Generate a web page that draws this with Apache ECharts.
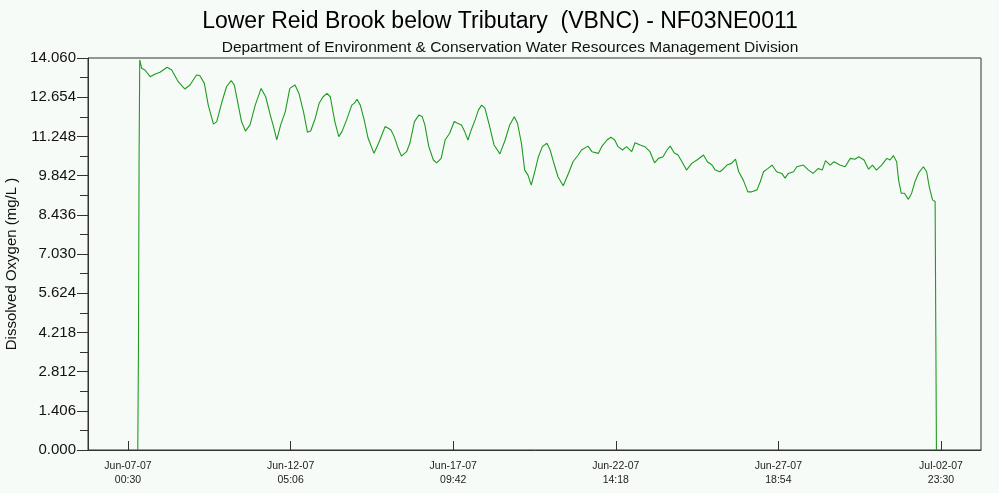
<!DOCTYPE html>
<html>
<head>
<meta charset="utf-8">
<script src="https://cdn.jsdelivr.net/npm/echarts@6/dist/echarts.min.js"></script>
<style>
  html, body { margin: 0; padding: 0; background: #f6fbf8; }
  #chart { width: 999px; height: 493px; }
</style>
</head>
<body>
<div id="chart"></div>
<script>
// Dissolved oxygen record, hours counted from Jun-07-07 00:30
const hours = [
  7.5, 8.0, 8.5, 9.0, 10.5, 13.0, 17.0, 20.5, 24.5, 30.0, 33.5, 38.5, 43.5, 47.5, 52.5, 55.0,
  58.5, 61.5, 65.5, 68.0, 72.0, 75.5, 79.0, 81.5, 84.5, 87.0, 90.0, 93.5, 97.5, 102.0, 105.5,
  109.0, 111.5, 114.0, 117.0, 120.5, 124.0, 128.0, 131.0, 134.5, 137.5, 140.0, 143.5, 146.5,
  149.5, 152.5, 155.0, 158.5, 161.5, 164.0, 167.5, 171.5, 173.5, 175.5, 178.0, 181.0, 184.0,
  188.5, 192.0, 194.5, 197.0, 199.5, 201.5, 204.0, 207.0, 209.5, 213.5, 216.0, 219.5, 223.0,
  225.5, 227.5, 230.5, 234.0, 236.5, 240.0, 243.0, 246.5, 250.0, 252.5, 255.5, 258.0, 260.5,
  263.0, 266.0, 268.5, 271.0, 273.5, 276.5, 280.5, 285.0, 289.0, 292.5, 296.0, 298.5, 301.5,
  304.0, 306.5, 309.0, 312.0, 314.5, 317.5, 321.0, 323.5, 326.0, 329.5, 333.5, 337.5, 341.0,
  345.0, 347.5, 352.5, 355.5, 360.5, 363.0, 367.0, 370.0, 373.0, 375.5, 379.0, 382.0, 386.0,
  388.5, 392.5, 396.0, 400.0, 403.5, 406.5, 410.0, 413.0, 415.5, 418.5, 421.5, 424.5, 428.0,
  432.0, 436.0, 441.0, 444.0, 447.5, 450.0, 453.5, 456.0, 459.0, 462.5, 465.5, 468.0, 471.5,
  475.0, 478.0, 482.0, 484.5, 487.0, 490.5, 493.5, 497.0, 501.0, 503.5, 506.0, 510.0, 512.5,
  517.5, 521.5, 525.0, 529.0, 532.0, 534.5, 538.0, 541.0, 545.5, 549.5, 553.5, 557.0, 560.0,
  564.0, 567.5, 570.5, 573.5, 577.5, 581.5, 584.0, 586.5, 589.0, 590.5, 592.5, 595.0, 598.0,
  600.5, 603.0, 606.0, 609.5, 612.0, 614.0, 616.5, 618.5, 619.0, 619.5
];
const oxygen = [
  0.00, 3.53, 10.54, 13.99, 13.69, 13.63, 13.39, 13.48, 13.55, 13.73, 13.63, 13.21, 12.95, 13.09, 13.45, 13.43,
  13.15, 12.37, 11.69, 11.78, 12.49, 13.03, 13.25, 13.09, 12.37, 11.78, 11.44, 11.66, 12.37, 12.97, 12.67,
  12.02, 11.60, 11.12, 11.66, 12.13, 12.97, 13.09, 12.79, 12.13, 11.40, 11.44, 11.90, 12.44,
  12.67, 12.79, 12.67, 11.78, 11.24, 11.42, 11.84, 12.37, 12.44, 12.58, 12.37, 11.84, 11.18,
  10.64, 11.00, 11.30, 11.60, 11.54, 11.48, 11.24, 10.82, 10.54, 10.70, 11.00, 11.78, 12.02,
  11.95, 11.66, 10.88, 10.40, 10.30, 10.46, 11.12, 11.36, 11.78, 11.72, 11.66, 11.42, 11.12,
  11.48, 11.84, 12.19, 12.37, 12.26, 11.72, 10.94, 10.62, 11.12, 11.66, 11.95, 11.72, 11.00,
  10.04, 9.86, 9.50, 10.04, 10.52, 10.88, 11.00, 10.76, 10.34, 9.80, 9.48, 9.92, 10.34,
  10.58, 10.76, 10.90, 10.70, 10.64, 10.88, 11.12, 11.22, 11.12, 10.88, 10.76, 10.88, 10.70,
  11.02, 10.94, 10.88, 10.70, 10.30, 10.46, 10.52, 10.76, 10.90, 10.66, 10.58, 10.34, 10.04,
  10.28, 10.40, 10.58, 10.34, 10.22, 10.04, 9.98, 10.07, 10.22, 10.28, 10.43, 9.98, 9.68,
  9.26, 9.26, 9.33, 9.62, 9.98, 10.10, 10.22, 9.98, 9.92, 9.75, 9.92, 9.98, 10.16,
  10.22, 10.04, 9.92, 10.10, 10.04, 10.38, 10.22, 10.34, 10.22, 10.16, 10.46, 10.43, 10.52,
  10.40, 10.07, 10.22, 10.04, 10.22, 10.46, 10.40, 10.56, 10.34, 9.68, 9.21, 9.21, 8.99,
  9.21, 9.62, 9.95, 10.16, 9.98, 9.44, 8.97, 8.91, 4.46, 0.00
];

// Date labels: one every 124.6 hours (5 days 4h36m)
const tickHours = [0, 124.6, 249.2, 373.8, 498.4, 623.0];
const tickDates = ['Jun-07-07', 'Jun-12-07', 'Jun-17-07', 'Jun-22-07', 'Jun-27-07', 'Jul-02-07'];
const tickTimes = ['00:30', '05:06', '09:42', '14:18', '18:54', '23:30'];

const yMax = 14.06;
const yStep = 1.406;

const titleText = 'Lower Reid Brook below Tributary  (VBNC) - NF03NE0011';
const subtitleText = 'Department of Environment & Conservation Water Resources Management Division';
const yName = 'Dissolved Oxygen (mg/L )';

const chart = echarts.init(document.getElementById('chart'), null, { renderer: 'canvas' });

const seriesData = hours.map((h, i) => [h, oxygen[i]]);

chart.setOption({
  animation: false,
  backgroundColor: '#f6fbf8',
  textStyle: { fontFamily: 'Liberation Sans, Arial, sans-serif' },
  title: [
    {
      text: titleText, left: 495, top: 5, textAlign: 'center',
      textStyle: { fontSize: 23, fontWeight: 'normal', color: '#000', fontFamily: 'Liberation Sans' }
    },
    {
      text: subtitleText, left: 505, top: 35, textAlign: 'center',
      textStyle: { fontSize: 15.5, fontWeight: 'normal', color: '#111', fontFamily: 'Liberation Sans' }
    }
  ],
  grid: {
    left: 88, top: 58, right: 18, bottom: 43,
    outerBoundsMode: 'none',
    containLabel: false,
    show: true, borderColor: '#333', borderWidth: 1, backgroundColor: 'transparent'
  },
  xAxis: {
    type: 'value',
    min: -30.65,
    max: 653.65,
    axisLine: { show: true, onZero: false, lineStyle: { color: '#333', width: 1 } },
    axisTick: { show: true, inside: true, length: 9, customValues: tickHours, lineStyle: { color: '#333' } },
    splitLine: { show: false },
    axisLabel: {
      customValues: tickHours,
      margin: 9,
      fontSize: 10.5,
      color: '#222',
      lineHeight: 14,
      fontFamily: 'Liberation Sans',
      formatter: (v) => {
        const i = tickHours.findIndex((t) => Math.abs(t - v) < 0.01);
        return i < 0 ? '' : tickDates[i] + '\n' + tickTimes[i];
      }
    }
  },
  yAxis: {
    type: 'value',
    min: 0,
    max: yMax,
    interval: yStep,
    name: yName,
    nameLocation: 'middle',
    nameGap: 64,
    nameRotate: 90,
    nameTextStyle: { fontSize: 15, color: '#111', fontFamily: 'Liberation Sans', padding: [0, 20, 0, 0] },
    axisLine: { show: true, onZero: false, lineStyle: { color: '#333', width: 1 } },
    axisTick: { show: true, inside: false, length: 11, lineStyle: { color: '#333' } },
    minorTick: { show: true, splitNumber: 2, length: 8, lineStyle: { color: '#333' } },
    splitLine: { show: false },
    axisLabel: {
      margin: 12,
      fontSize: 15,
      color: '#111',
      fontFamily: 'Liberation Sans',
      formatter: (v) => v.toFixed(3)
    }
  },
  series: [
    {
      type: 'line',
      data: seriesData,
      showSymbol: false,
      symbol: 'none',
      lineStyle: { color: '#1f9b1f', width: 1.1 },
      emphasis: { disabled: true }
    }
  ]
});
</script>
</body>
</html>
